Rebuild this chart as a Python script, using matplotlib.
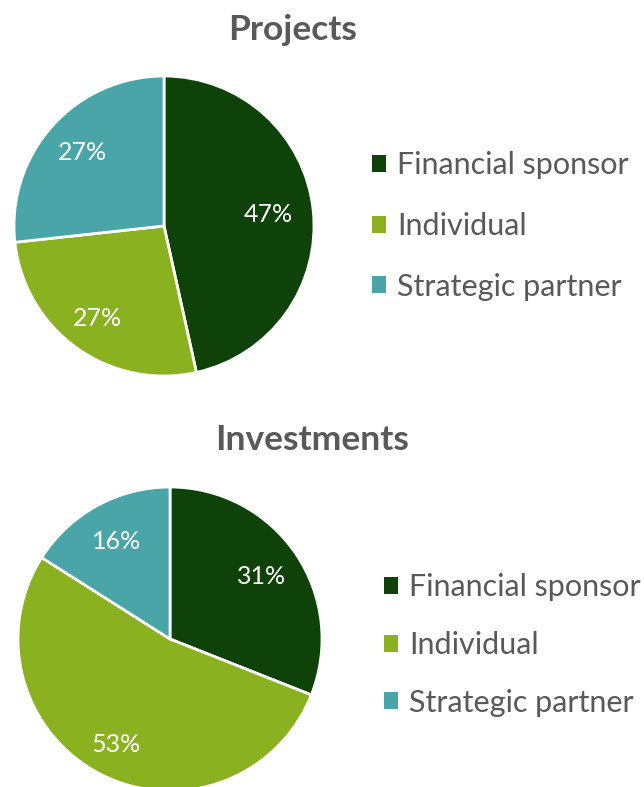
import matplotlib
matplotlib.use("Agg")
import matplotlib.pyplot as plt
from matplotlib.patches import Patch
import numpy as np

categories = ["Financial sponsor", "Individual", "Strategic partner"]
projects_values = [47, 27, 27]
investments_values = [31, 53, 16]
projects_labels = ["47%", "27%", "27%"]
investments_labels = ["31%", "53%", "16%"]
colors = ["#0E4209", "#8AB120", "#4AA5A8"]

plt.rcParams['font.family'] = ['Lato', 'DejaVu Sans']

W, H = 644, 787
fig = plt.figure(figsize=(W / 100, H / 100), dpi=100)

def px_axes(cx, cy, r):
    return fig.add_axes([(cx - r) / W, 1 - (cy + r) / H, 2 * r / W, 2 * r / H])

def draw_pie(ax, values, labels, dists):
    wedges, _ = ax.pie(values, colors=colors, startangle=90, counterclock=False,
                       radius=1, wedgeprops=dict(edgecolor="white", linewidth=2))
    for w, lab, d in zip(wedges, labels, dists):
        ang = np.deg2rad((w.theta1 + w.theta2) / 2)
        ax.text(d * np.cos(ang), d * np.sin(ang), lab, ha="center", va="center",
                color="white", fontsize=18)
    ax.set_xlim(-1, 1)
    ax.set_ylim(-1, 1)
    ax.axis("off")
    return wedges

ax1 = px_axes(164, 226, 150)
draw_pie(ax1, projects_values, projects_labels, [0.70, 0.76, 0.73])
ax2 = px_axes(170, 639, 152)
draw_pie(ax2, investments_values, investments_labels, [0.73, 0.78, 0.73])

fig.text(292.5 / W, 1 - 40 / H, "Projects", ha="center", va="baseline",
         fontsize=25.5, fontweight="bold", color="#595959")
fig.text(312.5 / W, 1 - 450 / H, "Investments", ha="center", va="baseline",
         fontsize=25.5, fontweight="bold", color="#595959")

handles = [Patch(facecolor=c, edgecolor="none") for c in colors]
leg_kw = dict(frameon=False, handlelength=0.47, handleheight=0.47, handletextpad=0.36,
              borderaxespad=0, borderpad=0, fontsize=22, labelcolor="#595959")
fig.legend(handles, categories, loc="center left",
           bbox_to_anchor=(372 / W, 1 - 226 / H), labelspacing=1.07, **leg_kw)
fig.legend(handles, categories, loc="center left",
           bbox_to_anchor=(384 / W, 1 - 645 / H), labelspacing=0.97, **leg_kw)

fig.savefig("out.png", dpi=100)
